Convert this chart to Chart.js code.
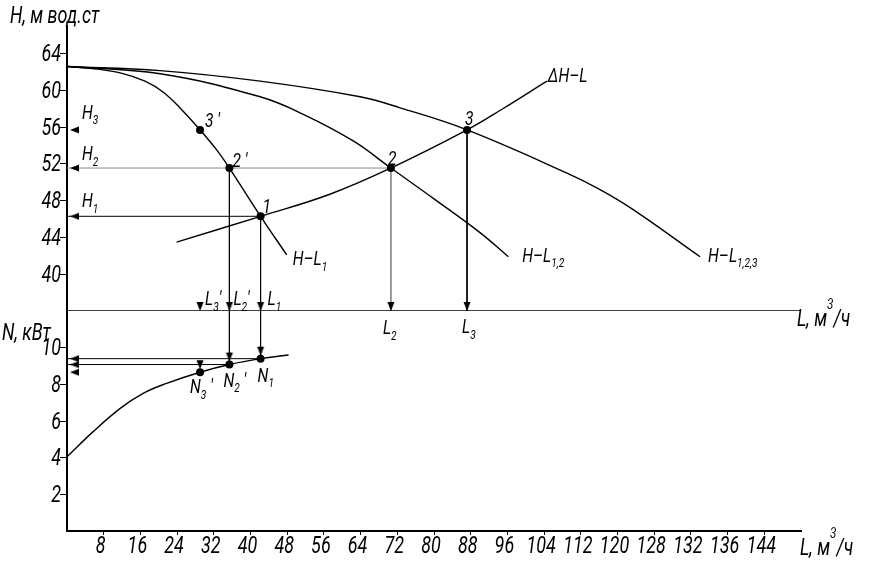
<!DOCTYPE html>
<html>
<head>
<meta charset="utf-8">
<script src="https://cdn.jsdelivr.net/npm/chart.js@4/dist/chart.umd.min.js"></script>
<style>
  html, body { margin: 0; padding: 0; background: #fff; }
  #wrap { width: 871px; height: 561px; }
</style>
</head>
<body>
<div id="wrap"><canvas id="myChart"></canvas></div>
<script>
/* характеристики насосов: H-L, dH-L и N-L */

// напорные кривые H-L (подача м3/ч, напор м)
var qL1   = [0, 6, 12, 17, 21, 25, 29, 32.5, 35.4, 42.2, 47.9];
var hL1   = [62.6, 62.35, 61.85, 61.0, 59.8, 57.9, 55.7, 53.6, 51.55, 46.3, 42.1];
var qL12  = [0, 20.3, 42.1, 51.5, 62.4, 70.6, 80, 90.1, 96.2];
var hL12  = [62.6, 61.8, 59.3, 57.4, 54.5, 51.55, 48.2, 44.5, 41.9];
var qL123 = [0, 20.3, 42.1, 63.9, 72.6, 87.2, 109, 116.2, 123.5, 138];
var hL123 = [62.6, 62.15, 61.0, 59.3, 58.1, 55.7, 51.0, 49.2, 47.0, 41.9];
// характеристика сети
var qNet  = [23.9, 42.2, 57.3, 70.6, 87.2, 95, 104.6];
var hNet  = [43.5, 46.3, 48.7, 51.55, 55.7, 58.0, 61.0];
// мощность N-L (кВт)
var qPow  = [0, 5.7, 11.6, 16.6, 21.7, 29, 35.4, 42.2, 48.3];
var nPow  = [4.05, 5.42, 6.69, 7.51, 8.05, 8.66, 9.08, 9.4, 9.6];
// рабочие точки 3', 2', 1, 2, 3
var workL = [29.0, 35.4, 42.2, 70.6, 87.2];
var workH = [55.7, 51.55, 46.3, 51.55, 55.7];
// точки на кривой мощности N3', N2', N1
var powL  = [29.0, 35.4, 42.2];
var powN  = [8.66, 9.08, 9.4];
// оси
var xTicks      = [8, 16, 24, 32, 40, 48, 56, 64, 72, 80, 88, 96, 104, 112, 120, 128, 136, 144, 152];
var xTickLabels = ['8', '16', '24', '32', '40', '48', '56', '64', '72', '80', '88', '96', '104', '112', '120', '128', '132', '136', '144'];
var hTicks = [40, 44, 48, 52, 56, 60, 64];
var nTicks = [2, 4, 6, 8, 10];
var hMin = 36, hMax = 67, nMin = 0, nMax = 12, lMax = 160;

var black = '#000', grey = '#8a8a8a';
var SX = 0.78, FONT = 'Roboto';

function pts(qs, vs) {
  return qs.map(function (q, i) { return {x: q, y: vs[i]}; });
}
function same(arr, v) {
  return arr.map(function () { return v; });
}
function curve(qs, vs, axis) {
  return {type: 'line', data: pts(qs, vs), yAxisID: axis, borderColor: black, borderWidth: 1.4,
    pointRadius: 0, tension: 0.4, fill: false, order: 3};
}
function guide(qs, vs, axis, color, w) {
  return {type: 'line', data: pts(qs, vs), yAxisID: axis, borderColor: color, borderWidth: w || 1,
    pointRadius: 0, tension: 0, fill: false, order: 4};
}
function marks(qs, vs, axis, style, r) {
  return {type: 'scatter', data: pts(qs, vs), yAxisID: axis, pointStyle: style, pointRadius: r,
    pointBackgroundColor: black, pointBorderWidth: 0, order: 1};
}
// наконечник стрелки (остриё в центре картинки, со сдвигом gap)
function arrow(dir, gap) {
  var len = 9, half = 3.5, size = 2 * (len + gap) + 2, m = size / 2;
  var c = document.createElement('canvas');
  c.width = size; c.height = size;
  var g = c.getContext('2d');
  g.fillStyle = black;
  g.beginPath();
  if (dir === 'down') {
    g.moveTo(m, m - gap); g.lineTo(m - half, m - gap - len); g.lineTo(m + half, m - gap - len);
  } else {
    g.moveTo(m + gap, m); g.lineTo(m + gap + len, m - half); g.lineTo(m + gap + len, m + half);
  }
  g.closePath();
  g.fill();
  return c;
}
var arrowDown = arrow('down', 0), arrowDownDot = arrow('down', 3), arrowLeft = arrow('left', 3);

// текст с индексами: parts = [[текст, 'sub'|'sup'|undefined], ...]
function rich(ctx, x, y, parts, size, align) {
  var big = 'italic ' + size + 'px ' + FONT;
  var small = 'italic ' + Math.round(size * 0.65) + 'px ' + FONT;
  ctx.save();
  ctx.translate(x, y);
  ctx.scale(SX, 1);
  ctx.textAlign = 'left';
  ctx.textBaseline = 'alphabetic';
  ctx.fillStyle = black;
  var w = 0;
  parts.forEach(function (p) { ctx.font = p[1] ? small : big; w += ctx.measureText(p[0]).width; });
  var cx = align === 'right' ? -w : (align === 'center' ? -w / 2 : 0);
  parts.forEach(function (p) {
    ctx.font = p[1] ? small : big;
    var dy = p[1] === 'sub' ? size * 0.28 : (p[1] === 'sup' ? -size * 0.72 : 0);
    ctx.fillText(p[0], cx, dy);
    cx += ctx.measureText(p[0]).width;
  });
  ctx.restore();
}

// подписи у точек и кривых: привязка к данным + сдвиг в пикселях
var last = function (a) { return a[a.length - 1]; };
var notes = [
  {q: workL[0], v: workH[0], ax: 'yH', dx: 5, dy: -3, t: [["3 '"]]},
  {q: workL[1], v: workH[1], ax: 'yH', dx: 3, dy: -1, t: [["2 '"]]},
  {q: workL[2], v: workH[2], ax: 'yH', dx: 2, dy: -3, t: [['1']]},
  {q: workL[3], v: workH[3], ax: 'yH', dx: -3, dy: -3, t: [['2']]},
  {q: workL[4], v: workH[4], ax: 'yH', dx: -2, dy: -5, t: [['3']]},
  {q: last(qL1), v: last(hL1), ax: 'yH', dx: 6, dy: 10, t: [['H–L'], ['1', 'sub']]},
  {q: last(qL12), v: last(hL12), ax: 'yH', dx: 14, dy: 5, t: [['H–L'], ['1,2', 'sub']]},
  {q: last(qL123), v: last(hL123), ax: 'yH', dx: 8, dy: 5, t: [['H–L'], ['1,2,3', 'sub']]},
  {q: last(qNet), v: last(hNet), ax: 'yH', dx: 1, dy: 1, t: [['ΔH–L']]},
  {q: 0, v: workH[4], ax: 'yH', dx: 15, dy: -11, t: [['H'], ['3', 'sub']]},
  {q: 0, v: workH[1], ax: 'yH', dx: 15, dy: -8, t: [['H'], ['2', 'sub']]},
  {q: 0, v: workH[2], ax: 'yH', dx: 15, dy: -9, t: [['H'], ['1', 'sub']]},
  {q: workL[0], v: hMin, ax: 'yH', dx: 5, dy: -6, t: [['L'], ['3', 'sub'], ["'"]]},
  {q: workL[1], v: hMin, ax: 'yH', dx: 4, dy: -6, t: [['L'], ['2', 'sub'], ["'"]]},
  {q: workL[2], v: hMin, ax: 'yH', dx: 7, dy: -6, t: [['L'], ['1', 'sub']]},
  {q: workL[3], v: hMin, ax: 'yH', dx: -8, dy: 23, t: [['L'], ['2', 'sub']]},
  {q: workL[4], v: hMin, ax: 'yH', dx: -5, dy: 22, t: [['L'], ['3', 'sub']]},
  {q: powL[0], v: powN[0], ax: 'yN', dx: -10, dy: 21, t: [['N'], ['3', 'sub'], [" '"]]},
  {q: powL[1], v: powN[1], ax: 'yN', dx: -6, dy: 22, t: [['N'], ['2', 'sub'], [" '"]]},
  {q: powL[2], v: powN[2], ax: 'yN', dx: -3, dy: 23, t: [['N'], ['1', 'sub']]}
];
var unitL = [['L, м'], ['3', 'sup'], ['/ч']];

var textPlugin = {
  id: 'drawingText',
  afterDraw: function (chart) {
    var ctx = chart.ctx, a = chart.chartArea, s = chart.scales;
    var x = s.x, yH = s.yH, yN = s.yN;
    x.ticks.forEach(function (t, i) {
      rich(ctx, x.getPixelForValue(t.value) - 3, a.bottom + 22, [[xTickLabels[i]]], 23, 'center');
    });
    [yH, yN].forEach(function (sc) {
      sc.ticks.forEach(function (t) {
        rich(ctx, a.left - 6, sc.getPixelForValue(t.value) + 7.5, [[String(t.value)]], 23, 'right');
      });
    });
    rich(ctx, a.left - 57, a.top - 3, [['H, м вод.ст']], 23);
    rich(ctx, a.left - 65, yN.top + 29, [['N, кВт']], 23);
    rich(ctx, a.right - 1, a.bottom + 24, unitL, 23);
    rich(ctx, a.right - 4, yH.bottom + 15, unitL, 23);
    notes.forEach(function (n) {
      rich(ctx, x.getPixelForValue(n.q) + n.dx, s[n.ax].getPixelForValue(n.v) + n.dy, n.t, 20);
    });
  }
};

function setTicks(list) {
  return function (scale) { scale.ticks = list.map(function (v) { return {value: v}; }); };
}
var hidden = 'rgba(0,0,0,0)';

var ctx = document.getElementById('myChart').getContext('2d');
var myChart = new Chart(ctx, {
  type: 'scatter',
  data: {
    datasets: [
      marks(workL, workH, 'yH', 'circle', 4),
      marks(powL, powN, 'yN', 'circle', 4),
      marks(workL, same(workL, hMin), 'yH', arrowDown, 5),
      marks(powL, powN, 'yN', arrowDownDot, 5),
      marks([0, 0, 0], [workH[4], workH[1], workH[2]], 'yH', arrowLeft, 5),
      marks(same(powL, 0), powN, 'yN', arrowLeft, 5),
      curve(qL1, hL1, 'yH'),
      curve(qL12, hL12, 'yH'),
      curve(qL123, hL123, 'yH'),
      curve(qNet, hNet, 'yH'),
      curve(qPow, nPow, 'yN'),
      guide([0, lMax], [hMin, hMin], 'yH', black, 1.5),
      guide([0, workL[2]], [workH[2], workH[2]], 'yH', black),
      guide([0, workL[3]], [workH[3], workH[3]], 'yH', grey),
      guide([workL[1], workL[1]], [workH[1], hMin], 'yH', black),
      guide([workL[2], workL[2]], [workH[2], hMin], 'yH', black),
      guide([workL[3], workL[3]], [workH[3], hMin], 'yH', grey),
      guide([workL[4], workL[4]], [workH[4], hMin], 'yH', black),
      guide([powL[1], powL[1]], [nMax, powN[1]], 'yN', black),
      guide([powL[2], powL[2]], [nMax, powN[2]], 'yN', black),
      guide([0, powL[1]], [powN[1], powN[1]], 'yN', black),
      guide([0, powL[2]], [powN[2], powN[2]], 'yN', black)
    ]
  },
  options: {
    responsive: true,
    maintainAspectRatio: false,
    animation: false,
    events: [],
    layout: { padding: { left: 0, top: 26, right: 70, bottom: 0 } },
    plugins: { legend: { display: false }, tooltip: { enabled: false } },
    scales: {
      x: {
        type: 'linear', min: 0, max: lMax,
        afterBuildTicks: setTicks(xTicks),
        afterFit: function (sc) { sc.height = 30; },
        ticks: { color: hidden },
        grid: { drawOnChartArea: false, tickLength: 4, color: black },
        border: { color: black, width: 2 }
      },
      yN: {
        type: 'linear', position: 'left', stack: 'panels', stackWeight: 220,
        min: nMin, max: nMax,
        afterBuildTicks: setTicks(nTicks),
        afterFit: function (sc) { sc.width = 67; },
        ticks: { color: hidden },
        grid: { drawOnChartArea: false, tickLength: 7, color: black },
        border: { color: black, width: 2 }
      },
      yH: {
        type: 'linear', position: 'left', stack: 'panels', stackWeight: 285,
        min: hMin, max: hMax,
        afterBuildTicks: setTicks(hTicks),
        afterFit: function (sc) { sc.width = 67; },
        ticks: { color: hidden },
        grid: { drawOnChartArea: false, tickLength: 7, color: black },
        border: { color: black, width: 2 }
      }
    }
  },
  plugins: [textPlugin]
});
</script>
</body>
</html>
